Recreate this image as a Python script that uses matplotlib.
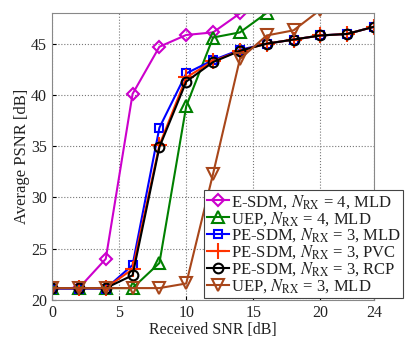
import numpy as np
import matplotlib
matplotlib.use("Agg")
import matplotlib.pyplot as plt

plt.rcParams["font.family"] = ["Liberation Serif", "DejaVu Serif"]
plt.rcParams["mathtext.fontset"] = "stix"

# Received SNR [dB]
snr = [0, 2, 4, 6, 8, 10, 12, 14, 16, 18, 20, 22, 24]

# Average PSNR [dB] per scheme
esdm_4_mld = [21.15, 21.15, 24.0, 40.1, 44.7, 45.85, 46.1, 47.95]
uep_4_mld = [21.15, 21.15, 21.15, 21.15, 23.6, 38.9, 45.6, 46.1, 48.0]
pesdm_3_mld = [21.1, 21.1, 21.1, 23.4, 36.8, 42.1, 43.4, 44.4, 45.0, 45.4, 45.8, 45.95, 46.65]
pesdm_3_pvc = [21.15, 21.15, 21.15, 23.0, 35.1, 41.7, 43.3, 44.3, 45.0, 45.4, 45.8, 45.95, 46.65]
pesdm_3_rcp = [21.15, 21.15, 21.15, 22.4, 34.9, 41.3, 43.2, 44.3, 45.0, 45.4, 45.8, 45.95, 46.65]
uep_3_mld = [21.15, 21.15, 21.15, 21.15, 21.15, 21.6, 32.3, 43.5, 45.8, 46.3, 48.3]

labels = [
    r"E-SDM, $N_{\rm RX}$ = 4, MLD",
    r"UEP, $N_{\rm RX}$ = 4, MLD",
    r"PE-SDM, $N_{\rm RX}$ = 3, MLD",
    r"PE-SDM, $N_{\rm RX}$ = 3, PVC",
    r"PE-SDM, $N_{\rm RX}$ = 3, RCP",
    r"UEP, $N_{\rm RX}$ = 3, MLD",
]

series = [esdm_4_mld, uep_4_mld, pesdm_3_mld, pesdm_3_pvc, pesdm_3_rcp, uep_3_mld]
styles = [
    {"color": "#cc00cc", "marker": "D", "ms": 6},
    {"color": "#008000", "marker": "^", "ms": 8},
    {"color": "#0000ff", "marker": "s", "ms": 6},
    {"color": "#ff3300", "marker": "+", "ms": 11},
    {"color": "#000000", "marker": "o", "ms": 7},
    {"color": "#a8461a", "marker": "v", "ms": 8},
]

fig = plt.figure(figsize=(4.07, 3.40), dpi=100)
ax = fig.add_axes([0.128, 0.118, 0.791, 0.844])

for vals, label, st in zip(series, labels, styles):
    ax.plot(snr[:len(vals)], vals, color=st["color"], marker=st["marker"],
            markersize=st["ms"], markerfacecolor="none",
            markeredgecolor=st["color"], markeredgewidth=1.5,
            linewidth=1.5, label=label)

ax.set_xlim(0, 24)
ax.set_ylim(20, 48)
ax.set_xticks([0, 5, 10, 15, 20, 24])
ax.set_yticks([20, 25, 30, 35, 40, 45])
ax.tick_params(direction="in", labelsize=11.5, length=3, labelcolor="#222222")
ax.grid(True, linestyle=":", color="#777777", linewidth=0.8)
for sp in ax.spines.values():
    sp.set_color("#888888")

ax.set_xlabel("Received SNR [dB]", fontsize=11.5, labelpad=1, color="#222222")
ax.set_ylabel("Average PSNR [dB]", fontsize=12, labelpad=1, color="#222222")

leg = ax.legend(loc="lower left", bbox_to_anchor=(0.472, 0.007),
                borderaxespad=0, fontsize=12, fancybox=False,
                handlelength=1.35, handletextpad=0.1, labelspacing=-0.05,
                borderpad=0.15, framealpha=1)
leg.get_frame().set_edgecolor("#444444")
leg.get_frame().set_linewidth(0.8)
for t in leg.get_texts():
    t.set_color("#222222")

fig.savefig("out.png", dpi=100)
